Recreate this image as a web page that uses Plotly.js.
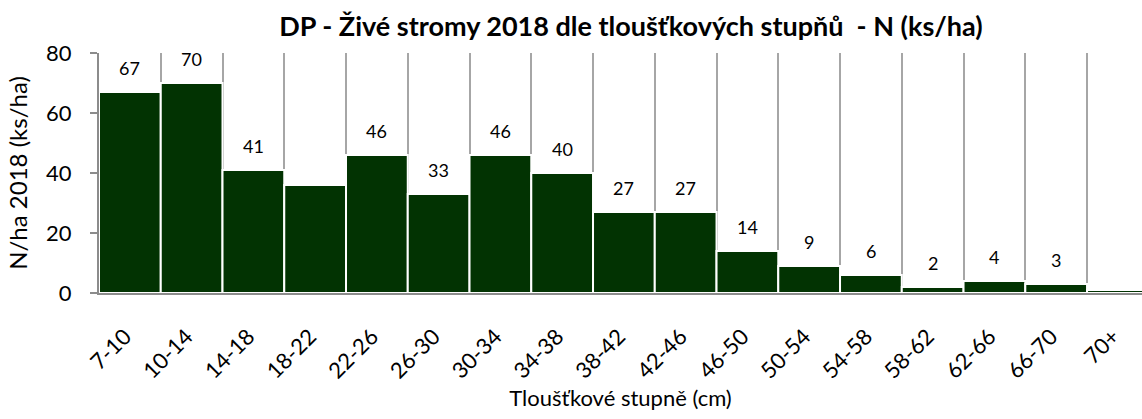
<!DOCTYPE html>
<html>
<head>
<meta charset="utf-8">
<script src="https://cdn.plot.ly/plotly-3.0.1.min.js"></script>
<style>html,body{margin:0;padding:0;overflow:hidden;background:#fff}</style>
</head>
<body>
<div id="chart" style="width:1142px;height:419px"></div>
<script>
const categories = ["7-10","10-14","14-18","18-22","22-26","26-30","30-34","34-38","38-42","42-46","46-50","50-54","54-58","58-62","62-66","66-70","70+"];
const values = [67,70,41,36,46,33,46,40,27,27,14,9,6,2,4,3,1];
const labels = ["67","70","41","","46","33","46","40","27","27","14","9","6","2","4","3",""];
const yTicks = [0,20,40,60,80];

const FONT = "Lato, 'Open Sans', sans-serif";

const trace = {
  type: "bar",
  x: categories,
  y: values,
  marker: {color: "#023302", line: {color: "#ffffff", width: 2}},
  hoverinfo: "x+y"
};

const annotations = categories.map((c, i) => ({
  x: c, y: values[i], xref: "x", yref: "y",
  text: labels[i], showarrow: false,
  yanchor: "middle", yshift: 24,
  font: {family: FONT, size: 18, color: "#000"}
}));

const layout = {
  width: 1142, height: 419,
  margin: {l: 99, r: 0, t: 53, b: 126},
  paper_bgcolor: "#fff", plot_bgcolor: "#fff",
  showlegend: false,
  bargap: 0,
  title: {
    text: "<b>DP - Živé stromy 2018 dle tloušťkových stupňů  - N (ks/ha)</b>",
    font: {family: FONT, size: 27, color: "#000"},
    xref: "container", x: 0.5525, xanchor: "center",
    yref: "container", y: 1 - 27/419, yanchor: "middle"
  },
  xaxis: {
    type: "category",
    range: [-0.5, 16.39],
    tickson: "boundaries",
    showgrid: true, gridcolor: "#a6a6a6", gridwidth: 2,
    ticks: "",
    showline: true, linecolor: "#8c8c8c", linewidth: 2,
    tickangle: -45,
    ticklabelstandoff: 20,
    ticklabelshift: -5,
    tickfont: {family: FONT, size: 22, color: "#000"},
    title: {text: "Tloušťkové stupně (cm)", font: {family: FONT, size: 22, color: "#000"}, standoff: 8},
    fixedrange: true
  },
  yaxis: {
    range: [0, 80],
    tickvals: yTicks,
    ticktext: yTicks.map(String),
    showgrid: false, zeroline: false,
    ticks: "outside", ticklen: 7, tickcolor: "#8c8c8c", tickwidth: 2,
    showline: true, linecolor: "#8c8c8c", linewidth: 2,
    ticklabelstandoff: 14,
    tickfont: {family: FONT, size: 22, color: "#000"},
    title: {text: "N/ha 2018 (ks/ha)", font: {family: FONT, size: 24, color: "#000"}, standoff: 12},
    fixedrange: true
  },
  annotations: annotations
};

Plotly.newPlot("chart", [trace], layout, {displayModeBar: false, staticPlot: true});
</script>
</body>
</html>
